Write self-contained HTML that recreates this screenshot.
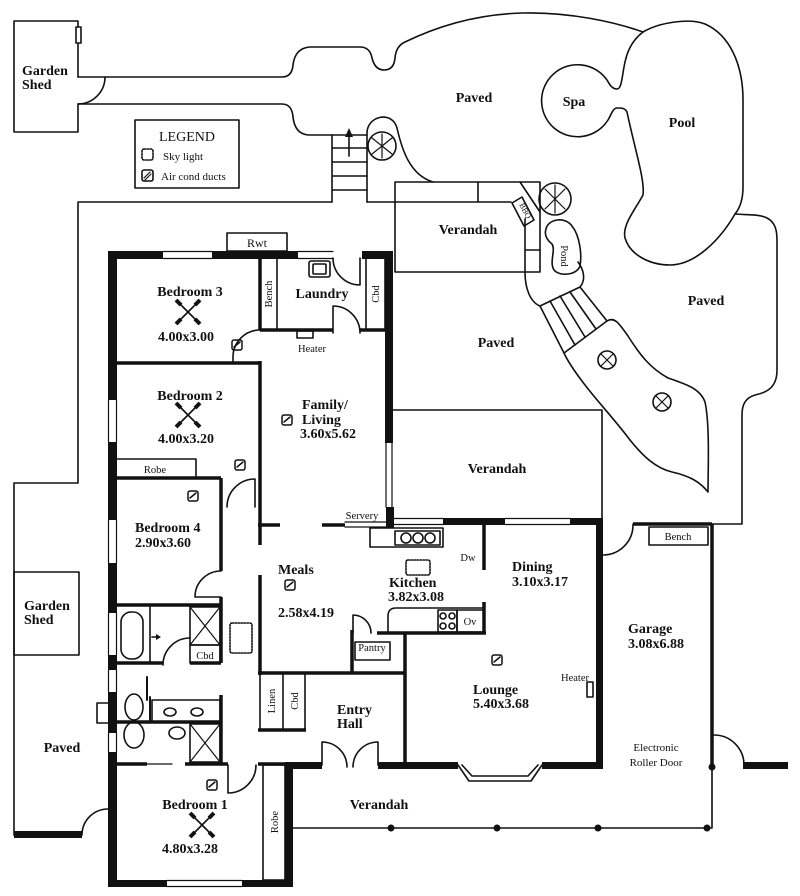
<!DOCTYPE html>
<html><head><meta charset="utf-8">
<style>
html,body{margin:0;padding:0;background:#fff;}
svg{display:block}
text{font-family:"Liberation Serif",serif;fill:#111}
.b{font-weight:bold;font-size:14px}
.s{font-size:10.5px}
</style></head><body>
<svg width="800" height="896" viewBox="0 0 800 896" xmlns="http://www.w3.org/2000/svg">
<rect width="800" height="896" fill="#fff"/>
<g fill="none" stroke="#111" stroke-width="1.6" stroke-linejoin="round" stroke-linecap="round">
<!-- top garden shed -->
<path d="M78,77 V21 H14 V132 H78 V104"/>
<rect x="76" y="27" width="5" height="16" fill="#fff"/>
<path d="M78,104 A27,27 0 0 0 105,77"/>
<!-- path from shed / paved top -->
<path d="M78,77 L282,77 Q292,77 293,65 Q295,48 310,47 L360,47 Q370,47 372,58 Q375,70 384,70 Q394,70 395,58 Q396,46 405,42 C440,25 480,14 523,13 C570,12 615,22 643,32"/>
<path d="M78,104 L282,104 Q292,104 293,117 Q295,135 310,135 L367,135"/>
<!-- stairs -->
<path d="M332,135 V202 M332,148 H367 M332,162 H367 M332,176 H367 M332,190 H367"/>
<path d="M367,202 V133 C367,116 392,110 397,128 C402,150 410,175 433,182"/>
<path d="M349,156 V134"/>
<!-- left boundary -->
<path d="M332,202 H78 V483 H14 V835"/>
<rect x="14" y="572" width="65" height="83"/>
<path d="M82,835 A26,26 0 0 1 108,809"/>
<!-- upper verandah -->
<rect x="395" y="182" width="145" height="90"/>
<path d="M367,202 H511 M478,182 V202 M520,182 L540,212 M525,219 V272 M525,250 H540"/>
<polygon points="512,203 522,197 534,220 524,226"/>
<!-- pond & path -->
<path d="M546,229 C548,219 565,216 572,226 C580,236 582,255 580,266 C577,275 560,277 554,270 C549,262 556,250 552,244 C547,240 544,235 546,229 Z"/>
<path d="M525,272 C525,288 530,302 540,306 M578,262 C584,270 586,280 580,287"/>
<path d="M540,306 L580,287 M540,306 L564,353 M550,301 L575,345 M560,296 L585,337 M570,292 L596,329 M580,287 L607,321"/>
<path d="M564,353 L607,321 C615,316 620,325 628,336 C640,355 650,368 668,378 C685,384 700,388 705,402 C710,425 708,470 708,492 C700,482 690,476 672,472 C655,468 642,455 630,440 C615,420 598,402 585,385 C575,372 568,362 564,353 Z"/>
<!-- pool & spa -->
<path d="M643,32 C660,22 690,18 705,24 C730,35 743,65 743,100 L743,187 C743,200 740,208 735,214 C720,240 695,265 670,265 C650,265 630,255 625,238 C622,225 635,210 643,195 C645,180 635,150 627,112 C625,108 622,108 617,108 C613,108 611,115 608,120 A36,36 0 1 1 607,80 C610,85 612,89 617,89 C622,89 622,75 625,62 C628,48 635,38 643,32 Z"/>
<!-- right paved -->
<path d="M735,214 C745,215 760,214 767,218 C775,222 777,230 777,240 L777,370 C777,385 770,392 755,395 C745,398 742,405 742,415 L742,524 H633"/>
<!-- middle verandah -->
<path d="M393,410 H602 V524"/>
<!-- garage etc -->
<path d="M633,525 A30,30 0 0 1 603,555"/>
<rect x="649" y="527" width="59" height="18"/>
<path d="M714,735 A30,30 0 0 1 744,765"/>
<path d="M712,767 V828 H293"/>
<!-- legend -->
<rect x="135" y="120" width="104" height="68"/>
<rect x="142" y="149" width="11" height="11" rx="2" stroke-dasharray="1.5,1.5"/>
<rect x="142" y="170" width="11" height="11" rx="2"/>
<path d="M144,178 L150,172 M145,180 L151,174" stroke-width="1.2"/>
<!-- Rwt -->
<rect x="227" y="233" width="60" height="18"/>
<!-- laundry sink -->
<rect x="309" y="261" width="21" height="16" rx="2"/>
<rect x="313" y="264" width="13" height="10" rx="1"/>
<!-- windows -->
<path d="M163,251.5 H212 M163,258.5 H212 M298,251.5 H333 M298,258.5 H333" stroke-width="1.2"/>
<path d="M108.5,400 V442 M116.5,400 V442 M108.5,520 V563 M116.5,520 V563 M108.5,613 V655 M116.5,613 V655 M108.5,670 V692 M116.5,670 V692 M108.5,733 V752 M116.5,733 V752" stroke-width="1.2"/>
<path d="M386,443 V507 M392,443 V507" stroke-width="1.2"/>
<path d="M394,518.5 H443 M394,524.5 H443 M505,518.5 H570 M505,524.5 H570" stroke-width="1.2"/>
<path d="M167,880.5 H242 M167,886.5 H242" stroke-width="1.2"/>
<path d="M345,522 H386 M345,527 H386" stroke-width="1.2"/>
<!-- bench / cbd laundry -->
<rect x="260" y="258" width="17" height="72"/>
<rect x="366" y="258" width="19" height="72"/>
<rect x="297" y="331" width="16" height="7"/>
<!-- doors -->
<path d="M333,258 A27,27 0 0 0 360,285 M360,258 V285"/>
<path d="M333,333 V306 A27,27 0 0 1 360,333"/>
<path d="M260,330 A27,27 0 0 0 233,357 M233,357 V363"/>
<path d="M255,507 V479 A28,28 0 0 0 227,507"/>
<path d="M221,597 H195 M221,571 A26,26 0 0 0 195,597"/>
<path d="M163,665 A27,27 0 0 1 190,638"/>
<path d="M228,765 V793 A28,28 0 0 0 256,765"/>
<path d="M322,765 V742 A25,25 0 0 1 347,767 M378,765 V742 A25,25 0 0 0 353,767"/>
<path d="M353,633 V615 A18,18 0 0 1 371,633"/>
<!-- robe -->
<path d="M117,459 H196 V478"/>
<!-- bathroom -->
<rect x="121" y="612" width="22" height="47" rx="10"/>
<path d="M150,607 V663"/>
<path d="M152,637 H159"/>
<rect x="190" y="607" width="30" height="38"/>
<path d="M190,607 L220,645 M220,607 L190,645" stroke-width="1.2"/>
<rect x="190" y="645" width="30" height="18"/>
<!-- ensuite -->
<ellipse cx="134" cy="707" rx="9" ry="13"/>
<ellipse cx="134" cy="735" rx="10" ry="13"/>
<rect x="152" y="700" width="68" height="22"/>
<ellipse cx="170" cy="712" rx="6" ry="4"/>
<ellipse cx="197" cy="712" rx="6" ry="4"/>
<ellipse cx="177" cy="733" rx="8" ry="6"/>
<rect x="190" y="724" width="30" height="38"/>
<path d="M190,724 L220,762 M220,724 L190,762" stroke-width="1.2"/>
<path d="M147,677 V700 M150,697 V722" stroke-width="2"/>
<rect x="97" y="703" width="12" height="20"/>
<path d="M147,764 H172" stroke-width="1.2"/>
<!-- skylight hall -->
<rect x="230" y="623" width="22" height="30" rx="2" stroke-dasharray="1.5,1.5"/>
<!-- linen/cbd -->
<path d="M260,673 V730 M283,673 V730 M305,673 V730"/>
<!-- robe bedroom1 -->
<rect x="263" y="765" width="22" height="115"/>
<!-- kitchen -->
<rect x="370" y="528" width="73" height="19"/>
<rect x="395" y="531" width="45" height="14"/>
<circle cx="406" cy="538" r="5"/><circle cx="418" cy="538" r="5"/><circle cx="430" cy="538" r="5"/>
<rect x="406" y="560" width="24" height="15" rx="2" stroke-dasharray="1.5,1.5"/>
<path d="M388,633 V616 Q388,608 396,608 H484"/>
<rect x="438" y="610" width="19" height="22"/>
<circle cx="443" cy="616" r="3"/><circle cx="452" cy="616" r="3"/><circle cx="443" cy="626" r="3"/><circle cx="452" cy="626" r="3"/>
<rect x="457" y="610" width="27" height="22"/>
<rect x="355" y="642" width="35" height="18"/>
<rect x="587" y="682" width="6" height="15"/>
<!-- bay -->
<path d="M458,765 L469,781 L531,781 L542,765 M462,765 L472,776 L528,776 L538,765"/>
<!-- plants -->
<circle cx="382" cy="146" r="14"/>
<path d="M372,138 L392,154 M372,154 L392,138 M382,134 V158" stroke-width="1.2"/>
<circle cx="555" cy="199" r="16"/>
<path d="M545,189 L565,209 M545,209 L565,189 M555,185 V213" stroke-width="1.2"/>
<circle cx="607" cy="360" r="9"/>
<path d="M601,354 L613,366 M601,366 L613,354" stroke-width="1.2"/>
<circle cx="662" cy="402" r="9"/>
<path d="M656,396 L668,408 M656,408 L668,396" stroke-width="1.2"/>
<!-- ducts -->
<g stroke-width="1.5">
<rect x="232" y="340" width="10" height="10" rx="2"/><path d="M234,347 L240,342" />
<rect x="282" y="415" width="10" height="10" rx="2"/><path d="M284,422 L290,417"/>
<rect x="235" y="460" width="10" height="10" rx="2"/><path d="M237,467 L243,462"/>
<rect x="188" y="491" width="10" height="10" rx="2"/><path d="M190,498 L196,493"/>
<rect x="285" y="580" width="10" height="10" rx="2"/><path d="M287,587 L293,582"/>
<rect x="492" y="655" width="10" height="10" rx="2"/><path d="M494,662 L500,657"/>
<rect x="207" y="780" width="10" height="10" rx="2"/><path d="M209,787 L215,782"/>
</g>
</g>
<!-- thick walls -->
<g fill="#111">
<rect x="108" y="251" width="9" height="149"/>
<rect x="108" y="442" width="9" height="78"/>
<rect x="108" y="563" width="9" height="50"/>
<rect x="108" y="655" width="9" height="15"/>
<rect x="108" y="692" width="9" height="41"/>
<rect x="108" y="752" width="9" height="135"/>
<rect x="108" y="251" width="55" height="8"/>
<rect x="212" y="251" width="86" height="8"/>
<rect x="362" y="251" width="31" height="8"/>
<rect x="385" y="251" width="8" height="192"/>
<rect x="386" y="507" width="8" height="21"/>
<rect x="443" y="518" width="62" height="7"/>
<rect x="570" y="518" width="33" height="7"/>
<rect x="596" y="518" width="7" height="251"/>
<rect x="285" y="762" width="37" height="7"/>
<rect x="378" y="762" width="80" height="7"/>
<rect x="542" y="762" width="61" height="7"/>
<rect x="285" y="762" width="8" height="125"/>
<rect x="108" y="880" width="59" height="7"/>
<rect x="242" y="880" width="51" height="7"/>
<rect x="14" y="831" width="68" height="7"/>
<rect x="743" y="762" width="45" height="7"/>
<polygon points="349,128 345,137 353,137"/>
<polygon points="161,637 156,634 156,640"/>
<circle cx="712" cy="767" r="3.5"/>
<circle cx="391" cy="828" r="3.5"/>
<circle cx="497" cy="828" r="3.5"/>
<circle cx="598" cy="828" r="3.5"/>
<circle cx="707" cy="828" r="3.5"/>
</g>
<!-- interior walls -->
<g fill="none" stroke="#111" stroke-width="3.5">
<path d="M117,363 H260"/>
<path d="M260,258 V330 M260,361 V545 M260,575 V675"/>
<path d="M260,330 H333 M360,330 H393"/>
<path d="M117,478 H221 M221,478 V571 M221,597 V605"/>
<path d="M117,605 H221 M221,605 V663"/>
<path d="M117,663 H163 M190,663 H221"/>
<path d="M117,722 H221 M221,695 V763"/>
<path d="M117,764 H147 M185,764 H228"/>
<path d="M258,764 H285"/>
<path d="M258,673 H406 M258,730 H306"/>
<path d="M258,525 H280 M322,525 H345"/>
<path d="M352,630 V673"/>
<path d="M377,633 H486"/>
<path d="M405,633 V765"/>
<path d="M484,518 V570 M484,602 V633"/>
<path d="M633,524 H712 M712,524 V767"/>
</g>
<!-- labels -->
<g class="b">
<text x="22" y="75">Garden</text><text x="22" y="89">Shed</text>
<text x="24" y="610">Garden</text><text x="24" y="624">Shed</text>
<text x="474" y="102" text-anchor="middle">Paved</text>
<text x="574" y="106" text-anchor="middle">Spa</text>
<text x="682" y="127" text-anchor="middle">Pool</text>
<text x="468" y="234" text-anchor="middle">Verandah</text>
<text x="496" y="347" text-anchor="middle">Paved</text>
<text x="706" y="305" text-anchor="middle">Paved</text>
<text x="497" y="473" text-anchor="middle">Verandah</text>
<text x="190" y="296" text-anchor="middle">Bedroom 3</text>
<text x="186" y="341" text-anchor="middle">4.00x3.00</text>
<text x="322" y="298" text-anchor="middle">Laundry</text>
<text x="190" y="400" text-anchor="middle">Bedroom 2</text>
<text x="186" y="443" text-anchor="middle">4.00x3.20</text>
<text x="302" y="409">Family/</text>
<text x="302" y="424">Living</text>
<text x="300" y="438">3.60x5.62</text>
<text x="135" y="532">Bedroom 4</text>
<text x="135" y="547">2.90x3.60</text>
<text x="278" y="574">Meals</text>
<text x="278" y="617">2.58x4.19</text>
<text x="389" y="587">Kitchen</text>
<text x="388" y="601">3.82x3.08</text>
<text x="512" y="571">Dining</text>
<text x="512" y="586">3.10x3.17</text>
<text x="473" y="694">Lounge</text>
<text x="473" y="708">5.40x3.68</text>
<text x="628" y="633">Garage</text>
<text x="628" y="648">3.08x6.88</text>
<text x="337" y="714">Entry</text>
<text x="337" y="728">Hall</text>
<text x="62" y="752" text-anchor="middle">Paved</text>
<text x="195" y="809" text-anchor="middle">Bedroom 1</text>
<text x="190" y="853" text-anchor="middle">4.80x3.28</text>
<text x="379" y="809" text-anchor="middle">Verandah</text>
</g>
<g class="s">
<text x="187" y="141" text-anchor="middle" style="font-size:14px">LEGEND</text>
<text x="163" y="160" style="font-size:11px">Sky light</text>
<text x="161" y="180" style="font-size:11px">Air cond ducts</text>
<text x="257" y="247" text-anchor="middle" style="font-size:12px">Rwt</text>
<text x="312" y="352" text-anchor="middle">Heater</text>
<text x="155" y="473" text-anchor="middle">Robe</text>
<text x="362" y="519" text-anchor="middle">Servery</text>
<text x="468" y="561" text-anchor="middle">Dw</text>
<text x="470" y="625" text-anchor="middle">Ov</text>
<text x="372" y="651" text-anchor="middle">Pantry</text>
<text x="205" y="659" text-anchor="middle">Cbd</text>
<text x="589" y="681" text-anchor="end">Heater</text>
<text x="678" y="540" text-anchor="middle">Bench</text>
<text x="656" y="751" text-anchor="middle" style="font-size:11px">Electronic</text>
<text x="656" y="766" text-anchor="middle" style="font-size:11px">Roller Door</text>
<text transform="translate(272,294) rotate(-90)" text-anchor="middle">Bench</text>
<text transform="translate(379,294) rotate(-90)" text-anchor="middle">Cbd</text>
<text transform="translate(275,701) rotate(-90)" text-anchor="middle">Linen</text>
<text transform="translate(298,701) rotate(-90)" text-anchor="middle">Cbd</text>
<text transform="translate(278,822) rotate(-90)" text-anchor="middle">Robe</text>
<text transform="translate(561,256) rotate(90)" text-anchor="middle">Pond</text>
<text transform="translate(523,212) rotate(62)" text-anchor="middle" style="font-size:8px">BBQ</text>
</g>
<!-- fans -->
<g stroke="#111" fill="none">
<g transform="translate(188,312)"><path d="M-8,-8 L8,8 M-8,8 L8,-8" stroke-width="1.6"/><path d="M-12,-12 L-7,-7 M12,12 L7,7 M-12,12 L-7,7 M12,-12 L7,-7" stroke-width="4"/></g>
<g transform="translate(188,415)"><path d="M-8,-8 L8,8 M-8,8 L8,-8" stroke-width="1.6"/><path d="M-12,-12 L-7,-7 M12,12 L7,7 M-12,12 L-7,7 M12,-12 L7,-7" stroke-width="4"/></g>
<g transform="translate(202,825)"><path d="M-8,-8 L8,8 M-8,8 L8,-8" stroke-width="1.6"/><path d="M-12,-12 L-7,-7 M12,12 L7,7 M-12,12 L-7,7 M12,-12 L7,-7" stroke-width="4"/></g>
</g>
</svg>
</body></html>
